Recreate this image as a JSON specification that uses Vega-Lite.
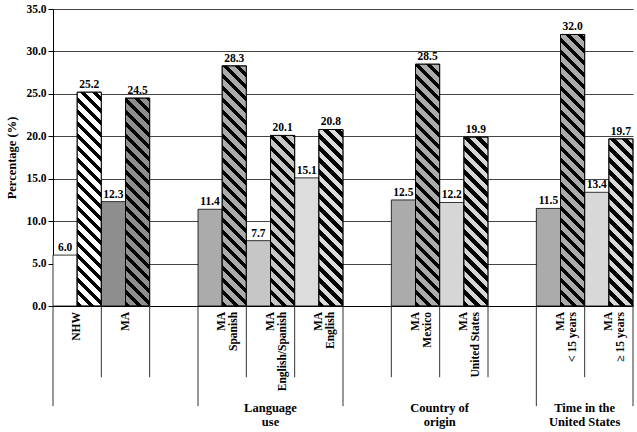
{
  "$schema": "https://vega.github.io/schema/vega-lite/v6.json",
  "width": 580,
  "height": 297,
  "autosize": {"type": "none"},
  "padding": {"left": 53, "top": 9, "right": 4, "bottom": 126},
  "background": "white",
  "config": {
    "view": {"stroke": null},
    "font": "Liberation Serif",
    "text": {"font": "Liberation Serif", "fontWeight": "bold", "color": "#000"},
    "axis": {"labelFont": "Liberation Serif", "titleFont": "Liberation Serif"},
    "axisX": {"labels": false, "ticks": false, "grid": false, "domain": true, "domainColor": "#000", "domainWidth": 1},
    "axisY": {"format": ".1f", "titleFont": "Liberation Serif", "titleFontSize": 12.5, "titleFontWeight": "bold", "titleColor": "#000", "titlePadding": 7,
      "labelFont": "Liberation Serif", "labelFontSize": 11.5, "labelFontWeight": "bold", "labelColor": "#000", "labelPadding": 2,
      "tickColor": "#000", "tickSize": 5, "domainColor": "#000", "grid": true, "gridColor": "#444", "gridWidth": 1}
  },
  "datasets": {
    "bars": [
      {"cat": "NHW", "series": "a", "value": 6.0},
      {"cat": "NHW", "series": "b", "value": 25.2},
      {"cat": "MA", "series": "a", "value": 12.3},
      {"cat": "MA", "series": "b", "value": 24.5},
      {"cat": "MA\nSpanish", "series": "a", "value": 11.4},
      {"cat": "MA\nSpanish", "series": "b", "value": 28.3},
      {"cat": "MA\nEnglish/Spanish", "series": "a", "value": 7.7},
      {"cat": "MA\nEnglish/Spanish", "series": "b", "value": 20.1},
      {"cat": "MA\nEnglish", "series": "a", "value": 15.1},
      {"cat": "MA\nEnglish", "series": "b", "value": 20.8},
      {"cat": "MA\nMexico", "series": "a", "value": 12.5},
      {"cat": "MA\nMexico", "series": "b", "value": 28.5},
      {"cat": "MA\nUnited States", "series": "a", "value": 12.2},
      {"cat": "MA\nUnited States", "series": "b", "value": 19.9},
      {"cat": "MA\n< 15 years", "series": "a", "value": 11.5},
      {"cat": "MA\n< 15 years", "series": "b", "value": 32.0},
      {"cat": "MA\n≥ 15 years", "series": "a", "value": 13.4},
      {"cat": "MA\n≥ 15 years", "series": "b", "value": 19.7}
    ]
  },
  "layer": [
    {
      "data": {"name": "bars"},
      "mark": {"type": "bar", "stroke": "#000", "strokeWidth": 0.8},
      "encoding": {
        "x": {"field": "cat", "type": "nominal", "sort": null, "title": null,
          "scale": {"domain": ["NHW", "MA", "gap1", "MA\nSpanish", "MA\nEnglish/Spanish", "MA\nEnglish", "gap2", "MA\nMexico", "MA\nUnited States", "gap3", "MA\n< 15 years", "MA\n≥ 15 years"], "paddingInner": 0, "paddingOuter": 0},
          "axis": {"title": null, "labels": false, "ticks": false, "grid": false, "domain": true, "domainColor": "#000"}},
        "xOffset": {"field": "series", "type": "nominal", "scale": {"domain": ["a", "b"], "paddingInner": 0, "paddingOuter": 0}},
        "y": {"field": "value", "type": "quantitative", "stack": null, "title": "Percentage (%)",
          "scale": {"domain": [0, 35], "nice": false},
          "axis": {"values": [0, 5, 10, 15, 20, 25, 30, 35], "format": ".1f", "title": "Percentage (%)", "grid": true, "labelFont": "Liberation Serif", "titleFont": "Liberation Serif", "labelFontWeight": "bold", "titleFontWeight": "bold"}},
        "fill": {"field": "cat", "type": "nominal", "legend": null,
          "scale": {"domain": ["NHW", "MA", "MA\nSpanish", "MA\nEnglish/Spanish", "MA\nEnglish", "MA\nMexico", "MA\nUnited States", "MA\n< 15 years", "MA\n≥ 15 years"],
            "range": ["#ffffff", "#8e8e8e", "#ababab", "#c6c6c6", "#dcdcdc", "#ababab", "#d6d6d6", "#ababab", "#d8d8d8"]}}
      }
    },
    {
      "data": {"name": "bars"},
      "transform": [{"filter": "datum.series === 'b'"}],
      "mark": {"type": "bar", "stroke": "#000", "strokeWidth": 0.8,
        "fill": {"expr": "{gradient:'linear',x1:0,y1:1,x2:300*bandwidth('xOffset')/(pow(bandwidth('xOffset'),2)+pow(scale('y',0)-scale('y',datum.value),2)),y2:1-300*(scale('y',0)-scale('y',datum.value))/(pow(bandwidth('xOffset'),2)+pow(scale('y',0)-scale('y',datum.value),2)),stops:[{offset:0,color:'#000'},{offset:0.018,color:'#000'},{offset:0.018,color:'transparent'},{offset:0.04,color:'transparent'},{offset:0.04,color:'#000'},{offset:0.058,color:'#000'},{offset:0.058,color:'transparent'},{offset:0.08,color:'transparent'},{offset:0.08,color:'#000'},{offset:0.098,color:'#000'},{offset:0.098,color:'transparent'},{offset:0.12,color:'transparent'},{offset:0.12,color:'#000'},{offset:0.138,color:'#000'},{offset:0.138,color:'transparent'},{offset:0.16,color:'transparent'},{offset:0.16,color:'#000'},{offset:0.178,color:'#000'},{offset:0.178,color:'transparent'},{offset:0.2,color:'transparent'},{offset:0.2,color:'#000'},{offset:0.218,color:'#000'},{offset:0.218,color:'transparent'},{offset:0.24,color:'transparent'},{offset:0.24,color:'#000'},{offset:0.258,color:'#000'},{offset:0.258,color:'transparent'},{offset:0.28,color:'transparent'},{offset:0.28,color:'#000'},{offset:0.298,color:'#000'},{offset:0.298,color:'transparent'},{offset:0.32,color:'transparent'},{offset:0.32,color:'#000'},{offset:0.338,color:'#000'},{offset:0.338,color:'transparent'},{offset:0.36,color:'transparent'},{offset:0.36,color:'#000'},{offset:0.378,color:'#000'},{offset:0.378,color:'transparent'},{offset:0.4,color:'transparent'},{offset:0.4,color:'#000'},{offset:0.418,color:'#000'},{offset:0.418,color:'transparent'},{offset:0.44,color:'transparent'},{offset:0.44,color:'#000'},{offset:0.458,color:'#000'},{offset:0.458,color:'transparent'},{offset:0.48,color:'transparent'},{offset:0.48,color:'#000'},{offset:0.498,color:'#000'},{offset:0.498,color:'transparent'},{offset:0.52,color:'transparent'},{offset:0.52,color:'#000'},{offset:0.538,color:'#000'},{offset:0.538,color:'transparent'},{offset:0.56,color:'transparent'},{offset:0.56,color:'#000'},{offset:0.578,color:'#000'},{offset:0.578,color:'transparent'},{offset:0.6,color:'transparent'},{offset:0.6,color:'#000'},{offset:0.618,color:'#000'},{offset:0.618,color:'transparent'},{offset:0.64,color:'transparent'},{offset:0.64,color:'#000'},{offset:0.658,color:'#000'},{offset:0.658,color:'transparent'},{offset:0.68,color:'transparent'},{offset:0.68,color:'#000'},{offset:0.698,color:'#000'},{offset:0.698,color:'transparent'},{offset:0.72,color:'transparent'},{offset:0.72,color:'#000'},{offset:0.738,color:'#000'},{offset:0.738,color:'transparent'},{offset:0.76,color:'transparent'},{offset:0.76,color:'#000'},{offset:0.778,color:'#000'},{offset:0.778,color:'transparent'},{offset:0.8,color:'transparent'},{offset:0.8,color:'#000'},{offset:0.818,color:'#000'},{offset:0.818,color:'transparent'},{offset:0.84,color:'transparent'},{offset:0.84,color:'#000'},{offset:0.858,color:'#000'},{offset:0.858,color:'transparent'},{offset:0.88,color:'transparent'},{offset:0.88,color:'#000'},{offset:0.898,color:'#000'},{offset:0.898,color:'transparent'},{offset:0.92,color:'transparent'},{offset:0.92,color:'#000'},{offset:0.938,color:'#000'},{offset:0.938,color:'transparent'},{offset:0.96,color:'transparent'},{offset:0.96,color:'#000'},{offset:0.978,color:'#000'},{offset:0.978,color:'transparent'},{offset:1,color:'transparent'}]}"}},
      "encoding": {
        "x": {"field": "cat", "type": "nominal", "sort": null, "title": null,
          "scale": {"domain": ["NHW", "MA", "gap1", "MA\nSpanish", "MA\nEnglish/Spanish", "MA\nEnglish", "gap2", "MA\nMexico", "MA\nUnited States", "gap3", "MA\n< 15 years", "MA\n≥ 15 years"], "paddingInner": 0, "paddingOuter": 0},
          "axis": {"title": null, "labels": false, "ticks": false, "grid": false, "domain": true, "domainColor": "#000"}},
        "xOffset": {"field": "series", "type": "nominal", "scale": {"domain": ["a", "b"], "paddingInner": 0, "paddingOuter": 0}},
        "y": {"field": "value", "type": "quantitative", "stack": null, "title": "Percentage (%)", "scale": {"domain": [0, 35], "nice": false},
          "axis": {"values": [0, 5, 10, 15, 20, 25, 30, 35], "format": ".1f", "title": "Percentage (%)", "grid": true, "labelFont": "Liberation Serif", "titleFont": "Liberation Serif", "labelFontWeight": "bold", "titleFontWeight": "bold"}}
      }
    },
    {
      "data": {"name": "bars"},
      "mark": {"type": "text", "baseline": "bottom", "dy": -2, "fontSize": 11.5, "fontWeight": "bold", "font": "Liberation Serif"},
      "encoding": {
        "x": {"field": "cat", "type": "nominal", "sort": null, "title": null,
          "scale": {"domain": ["NHW", "MA", "gap1", "MA\nSpanish", "MA\nEnglish/Spanish", "MA\nEnglish", "gap2", "MA\nMexico", "MA\nUnited States", "gap3", "MA\n< 15 years", "MA\n≥ 15 years"], "paddingInner": 0, "paddingOuter": 0},
          "axis": {"title": null, "labels": false, "ticks": false, "grid": false, "domain": true, "domainColor": "#000"}},
        "xOffset": {"field": "series", "type": "nominal", "scale": {"domain": ["a", "b"], "paddingInner": 0, "paddingOuter": 0}},
        "y": {"field": "value", "type": "quantitative", "stack": null, "title": "Percentage (%)", "scale": {"domain": [0, 35], "nice": false},
          "axis": {"values": [0, 5, 10, 15, 20, 25, 30, 35], "format": ".1f", "title": "Percentage (%)", "grid": true, "labelFont": "Liberation Serif", "titleFont": "Liberation Serif", "labelFontWeight": "bold", "titleFontWeight": "bold"}},
        "text": {"field": "value", "type": "quantitative", "format": ".1f"}
      }
    },
    {
      "data": {"name": "bars"},
      "transform": [{"filter": "datum.series === 'a'"}],
      "mark": {"type": "text", "angle": 270, "align": "right", "baseline": "middle", "lineBreak": "\n", "lineHeight": 12, "fontSize": 11.5, "fontWeight": "bold", "font": "Liberation Serif"},
      "encoding": {
        "x": {"field": "cat", "type": "nominal", "sort": null, "title": null,
          "scale": {"domain": ["NHW", "MA", "gap1", "MA\nSpanish", "MA\nEnglish/Spanish", "MA\nEnglish", "gap2", "MA\nMexico", "MA\nUnited States", "gap3", "MA\n< 15 years", "MA\n≥ 15 years"], "paddingInner": 0, "paddingOuter": 0},
          "axis": {"title": null, "labels": false, "ticks": false, "grid": false, "domain": true, "domainColor": "#000"}},
        "y": {"datum": -0.7, "type": "quantitative", "title": "Percentage (%)", "scale": {"domain": [0, 35], "nice": false},
          "axis": {"values": [0, 5, 10, 15, 20, 25, 30, 35], "format": ".1f", "title": "Percentage (%)", "grid": true, "labelFont": "Liberation Serif", "titleFont": "Liberation Serif", "labelFontWeight": "bold", "titleFontWeight": "bold"}},
        "text": {"field": "cat", "type": "nominal"}
      }
    },
    {
      "data": {"values": [{"cat": "MA"}, {"cat": "gap1"}, {"cat": "MA\nEnglish/Spanish"}, {"cat": "MA\nEnglish"}, {"cat": "MA\nMexico"}, {"cat": "MA\nUnited States"}, {"cat": "gap3"}, {"cat": "MA\n≥ 15 years"}]},
      "mark": {"type": "rule", "color": "#333", "strokeWidth": 1},
      "encoding": {
        "x": {"field": "cat", "type": "nominal", "sort": null, "bandPosition": 0, "title": null,
          "scale": {"domain": ["NHW", "MA", "gap1", "MA\nSpanish", "MA\nEnglish/Spanish", "MA\nEnglish", "gap2", "MA\nMexico", "MA\nUnited States", "gap3", "MA\n< 15 years", "MA\n≥ 15 years"], "paddingInner": 0, "paddingOuter": 0},
          "axis": {"title": null, "labels": false, "ticks": false, "grid": false, "domain": true, "domainColor": "#000"}},
        "y": {"datum": 0, "type": "quantitative", "title": "Percentage (%)", "scale": {"domain": [0, 35], "nice": false},
          "axis": {"values": [0, 5, 10, 15, 20, 25, 30, 35], "format": ".1f", "title": "Percentage (%)", "grid": true, "labelFont": "Liberation Serif", "titleFont": "Liberation Serif", "labelFontWeight": "bold", "titleFontWeight": "bold"}},
        "y2": {"datum": -8.4}
      }
    },
    {
      "data": {"values": [{"cat": "NHW"}, {"cat": "MA\nSpanish"}, {"cat": "gap2"}, {"cat": "MA\n< 15 years"}]},
      "mark": {"type": "rule", "color": "#333", "strokeWidth": 1},
      "encoding": {
        "x": {"field": "cat", "type": "nominal", "sort": null, "bandPosition": 0, "title": null,
          "scale": {"domain": ["NHW", "MA", "gap1", "MA\nSpanish", "MA\nEnglish/Spanish", "MA\nEnglish", "gap2", "MA\nMexico", "MA\nUnited States", "gap3", "MA\n< 15 years", "MA\n≥ 15 years"], "paddingInner": 0, "paddingOuter": 0},
          "axis": {"title": null, "labels": false, "ticks": false, "grid": false, "domain": true, "domainColor": "#000"}},
        "y": {"datum": 0, "type": "quantitative", "title": "Percentage (%)", "scale": {"domain": [0, 35], "nice": false},
          "axis": {"values": [0, 5, 10, 15, 20, 25, 30, 35], "format": ".1f", "title": "Percentage (%)", "grid": true, "labelFont": "Liberation Serif", "titleFont": "Liberation Serif", "labelFontWeight": "bold", "titleFontWeight": "bold"}},
        "y2": {"datum": -11.8}
      }
    },
    {
      "data": {"values": [{"cat": "MA\n≥ 15 years"}]},
      "mark": {"type": "rule", "color": "#333", "strokeWidth": 1},
      "encoding": {
        "x": {"field": "cat", "type": "nominal", "sort": null, "bandPosition": 1, "title": null,
          "scale": {"domain": ["NHW", "MA", "gap1", "MA\nSpanish", "MA\nEnglish/Spanish", "MA\nEnglish", "gap2", "MA\nMexico", "MA\nUnited States", "gap3", "MA\n< 15 years", "MA\n≥ 15 years"], "paddingInner": 0, "paddingOuter": 0},
          "axis": {"title": null, "labels": false, "ticks": false, "grid": false, "domain": true, "domainColor": "#000"}},
        "y": {"datum": 0, "type": "quantitative", "title": "Percentage (%)", "scale": {"domain": [0, 35], "nice": false},
          "axis": {"values": [0, 5, 10, 15, 20, 25, 30, 35], "format": ".1f", "title": "Percentage (%)", "grid": true, "labelFont": "Liberation Serif", "titleFont": "Liberation Serif", "labelFontWeight": "bold", "titleFontWeight": "bold"}},
        "y2": {"datum": -11.8}
      }
    },
    {
      "data": {"values": [{"cat": "MA\nEnglish/Spanish", "label": "Language\nuse"}]},
      "mark": {"type": "text", "align": "center", "baseline": "top", "lineBreak": "\n", "lineHeight": 14, "fontSize": 12.5, "fontWeight": "bold", "font": "Liberation Serif"},
      "encoding": {
        "x": {"field": "cat", "type": "nominal", "sort": null, "bandPosition": 0.5, "title": null,
          "scale": {"domain": ["NHW", "MA", "gap1", "MA\nSpanish", "MA\nEnglish/Spanish", "MA\nEnglish", "gap2", "MA\nMexico", "MA\nUnited States", "gap3", "MA\n< 15 years", "MA\n≥ 15 years"], "paddingInner": 0, "paddingOuter": 0},
          "axis": {"title": null, "labels": false, "ticks": false, "grid": false, "domain": true, "domainColor": "#000"}},
        "y": {"datum": -11.3, "type": "quantitative", "title": "Percentage (%)", "scale": {"domain": [0, 35], "nice": false},
          "axis": {"values": [0, 5, 10, 15, 20, 25, 30, 35], "format": ".1f", "title": "Percentage (%)", "grid": true, "labelFont": "Liberation Serif", "titleFont": "Liberation Serif", "labelFontWeight": "bold", "titleFontWeight": "bold"}},
        "text": {"field": "label", "type": "nominal"}
      }
    },
    {
      "data": {"values": [{"cat": "MA\nUnited States", "label": "Country of\norigin"}, {"cat": "MA\n≥ 15 years", "label": "Time in the\nUnited States"}]},
      "mark": {"type": "text", "align": "center", "baseline": "top", "lineBreak": "\n", "lineHeight": 14, "fontSize": 12.5, "fontWeight": "bold", "font": "Liberation Serif"},
      "encoding": {
        "x": {"field": "cat", "type": "nominal", "sort": null, "bandPosition": 0, "title": null,
          "scale": {"domain": ["NHW", "MA", "gap1", "MA\nSpanish", "MA\nEnglish/Spanish", "MA\nEnglish", "gap2", "MA\nMexico", "MA\nUnited States", "gap3", "MA\n< 15 years", "MA\n≥ 15 years"], "paddingInner": 0, "paddingOuter": 0},
          "axis": {"title": null, "labels": false, "ticks": false, "grid": false, "domain": true, "domainColor": "#000"}},
        "y": {"datum": -11.3, "type": "quantitative", "title": "Percentage (%)", "scale": {"domain": [0, 35], "nice": false},
          "axis": {"values": [0, 5, 10, 15, 20, 25, 30, 35], "format": ".1f", "title": "Percentage (%)", "grid": true, "labelFont": "Liberation Serif", "titleFont": "Liberation Serif", "labelFontWeight": "bold", "titleFontWeight": "bold"}},
        "text": {"field": "label", "type": "nominal"}
      }
    }
  ]
}
